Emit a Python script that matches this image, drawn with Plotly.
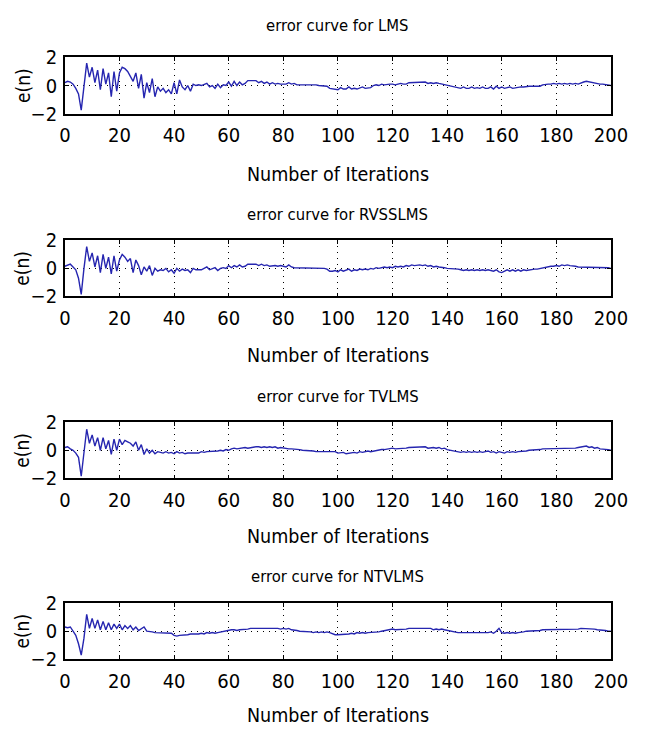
import plotly.graph_objects as go

n = list(range(0, 201))

lms = [0.2, 0.3, 0.25, 0.1, -0.2, -0.6, -1.75, -0.1, 1.6, 0.6,
       1.3, 0.2, 1.1, -0.3, 1.2, 0.1, 0.9, -0.8, 1.0, -0.4,
       0.9, 1.3, 1.2, 1.0, 0.6, 0.3, 0.9, -0.2, 0.8, -0.9,
       0.2, -0.5, 0.5, -0.8, -0.1, -0.4, -0.2, -0.5, -0.3, -0.6,
       0.2, -0.6, 0.4, -0.1, -0.3, 0.0, -0.4, 0.1, 0.0, 0.05,
       0.0, 0.05, 0.15, -0.1, 0.0, -0.2, 0.1, -0.15, 0.05, 0.0,
       0.25, -0.05, 0.3, 0.0, 0.25, 0.05, 0.15, 0.35, 0.35, 0.3,
       0.35, 0.2, 0.3, 0.15, 0.25, 0.1, 0.2, 0.1, 0.15, 0.1,
       0.1, 0.1, 0.2, 0.1, 0.15, 0.05, 0.05, 0.05, 0.05, 0.1,
       0.05, 0.05, 0.05, 0.0, 0.0, 0.0, -0.05, -0.2, -0.25, -0.25,
       -0.3, -0.15, -0.25, -0.25, -0.1, -0.25, -0.2, -0.25, -0.2, -0.1,
       -0.2, -0.2, -0.15, 0.0, 0.05, 0.0, 0.1, 0.05, 0.1, 0.1,
       0.1, 0.05, 0.1, 0.15, 0.1, 0.1, 0.2, 0.2, 0.25, 0.2,
       0.25, 0.2, 0.25, 0.15, 0.2, 0.15, 0.2, 0.15, 0.1, 0.1,
       0.05, 0.0, -0.05, -0.1, -0.15, -0.2, -0.1, -0.2, -0.2, -0.1,
       -0.2, -0.15, -0.2, -0.1, -0.2, -0.2, -0.1, -0.25, -0.05, -0.2,
       -0.1, -0.2, -0.15, -0.1, -0.2, -0.15, -0.15, -0.1, -0.1, -0.05,
       -0.05, -0.05, -0.05, -0.05, -0.05, 0.05, 0.1, 0.1, 0.1, 0.15,
       0.1, 0.15, 0.1, 0.15, 0.1, 0.15, 0.1, 0.15, 0.1, 0.2,
       0.25, 0.3, 0.25, 0.2, 0.2, 0.15, 0.1, 0.1, 0.05, 0.05,
       0.0]

rvsslms = [0.15, 0.25, 0.3, 0.1, -0.1, -0.7, -1.85, 0.0, 1.55, 0.5,
           1.1, 0.1, 0.9, -0.3, 1.0, 0.0, 0.8, -0.4, 0.9, -0.2,
           0.6, 1.0, 0.8, 0.5, 0.7, -0.3, 0.6, 0.2, -0.45, 0.1,
           -0.2, 0.2, -0.5, 0.0, -0.2, -0.1, -0.15, 0.0, -0.25, -0.1,
           -0.35, 0.0, -0.2, -0.05, -0.15, -0.1, -0.3, 0.0, -0.1, -0.1,
           -0.1, 0.0, 0.1, -0.1, -0.05, 0.05, -0.15, 0.0, 0.05, 0.0,
           0.2, 0.05, 0.2, 0.1, 0.25, 0.1, 0.15, 0.3, 0.3, 0.3,
           0.3, 0.2, 0.3, 0.2, 0.25, 0.15, 0.2, 0.2, 0.15, 0.2,
           0.15, 0.1, 0.25, 0.1, 0.05, 0.05, 0.05, 0.05, 0.05, 0.05,
           0.05, 0.0, 0.0, 0.0, 0.0, 0.0, -0.05, -0.2, -0.2, -0.15,
           -0.25, -0.1, -0.2, -0.15, -0.05, -0.2, -0.1, -0.15, -0.05, -0.1,
           -0.05, -0.1, 0.0, -0.05, 0.05, 0.0, 0.05, 0.1, 0.05, 0.1,
           0.05, 0.15, 0.1, 0.15, 0.1, 0.2, 0.15, 0.25, 0.2, 0.25,
           0.25, 0.2, 0.25, 0.15, 0.2, 0.1, 0.15, 0.1, 0.1, 0.05,
           0.0, 0.0, 0.0, -0.05, -0.05, -0.1, -0.15, -0.1, -0.15, -0.1,
           -0.15, -0.1, -0.15, -0.1, -0.15, -0.1, -0.15, -0.2, -0.1, -0.25,
           -0.3, -0.2, -0.1, -0.2, -0.1, -0.2, -0.1, -0.2, -0.1, -0.15,
           -0.1, -0.05, -0.05, -0.05, 0.0, 0.05, 0.05, 0.1, 0.15, 0.15,
           0.2, 0.15, 0.25, 0.2, 0.25, 0.2, 0.2, 0.15, 0.1, 0.1,
           0.1, 0.05, 0.1, 0.05, 0.1, 0.05, 0.05, 0.1, 0.05, 0.05,
           0.0]

tvlms = [0.2, 0.25, 0.1, 0.0, -0.2, -0.5, -1.85, -0.3, 1.5, 0.5,
         1.1, 0.3, 0.9, 0.0, 0.9, 0.1, 0.7, -0.3, 0.8, 0.0,
         0.8, 0.4, 0.7, 0.6, 0.5, 0.3, 0.6, 0.0, 0.4, -0.3,
         0.1, -0.2, 0.0, -0.25, -0.1, -0.15, -0.2, -0.1, -0.2, -0.15,
         -0.25, -0.1, -0.2, -0.15, -0.25, -0.2, -0.2, -0.2, -0.15, -0.2,
         -0.1, -0.15, -0.1, -0.1, -0.05, -0.1, -0.05, 0.0, -0.05, 0.05,
         0.0, 0.1, 0.15, 0.1, 0.15, 0.15, 0.2, 0.15, 0.2, 0.2,
         0.25, 0.25, 0.2, 0.25, 0.2, 0.25, 0.2, 0.25, 0.15, 0.2,
         0.15, 0.15, 0.1, 0.1, 0.1, 0.05, 0.05, 0.0, 0.0, 0.0,
         0.0, -0.05, -0.1, -0.1, -0.05, -0.1, -0.05, -0.1, -0.05, -0.1,
         -0.2, -0.2, -0.15, -0.25, -0.2, -0.2, -0.15, -0.2, -0.1, -0.15,
         -0.1, -0.05, -0.1, -0.05, -0.05, 0.0, 0.05, 0.05, 0.1, 0.1,
         0.15, 0.1, 0.1, 0.15, 0.1, 0.15, 0.2, 0.2, 0.25, 0.2,
         0.25, 0.2, 0.25, 0.15, 0.2, 0.2, 0.15, 0.2, 0.1, 0.15,
         0.05, 0.0, -0.05, -0.05, -0.1, -0.15, -0.1, -0.15, -0.1, -0.15,
         -0.1, -0.15, -0.1, -0.15, -0.1, -0.05, -0.15, -0.1, -0.2, -0.1,
         -0.15, -0.2, -0.1, -0.15, -0.1, -0.15, -0.1, -0.1, -0.05, -0.05,
         0.0, 0.0, 0.0, 0.05, 0.05, 0.1, 0.1, 0.15, 0.1, 0.15,
         0.1, 0.15, 0.1, 0.15, 0.1, 0.15, 0.1, 0.15, 0.2, 0.25,
         0.25, 0.3, 0.2, 0.25, 0.15, 0.2, 0.1, 0.1, 0.05, 0.05,
         0.0]

ntvlms = [0.3, 0.25, 0.3, 0.0, -0.3, -0.9, -1.7, -0.5, 1.2, 0.2,
          0.9, 0.2, 0.8, 0.1, 0.7, 0.1, 0.6, 0.1, 0.5, 0.2,
          0.5, 0.1, 0.4, 0.2, 0.4, 0.1, 0.3, 0.05, 0.2, 0.3,
          0.0, 0.0, -0.05, -0.1, -0.1, -0.1, -0.15, -0.1, -0.1, -0.15,
          -0.3, -0.35, -0.3, -0.3, -0.3, -0.25, -0.2, -0.2, -0.25, -0.2,
          -0.15, -0.2, -0.1, -0.15, -0.1, -0.15, -0.1, -0.05, -0.05, 0.0,
          0.05, 0.1, 0.1, 0.05, 0.1, 0.1, 0.15, 0.15, 0.2, 0.2,
          0.2, 0.25, 0.2, 0.25, 0.2, 0.2, 0.25, 0.2, 0.2, 0.15,
          0.2, 0.15, 0.2, 0.1, 0.1, 0.05, 0.0, 0.0, 0.0, 0.0,
          -0.05, -0.1, -0.05, -0.1, -0.05, -0.1, -0.05, -0.1, -0.2, -0.25,
          -0.25, -0.25, -0.2, -0.25, -0.2, -0.15, -0.2, -0.1, -0.15, -0.1,
          -0.15, -0.1, -0.1, -0.05, -0.05, -0.05, 0.0, 0.05, 0.1, 0.1,
          0.15, 0.1, 0.1, 0.1, 0.15, 0.15, 0.2, 0.2, 0.2, 0.2,
          0.2, 0.2, 0.2, 0.15, 0.2, 0.1, 0.15, 0.1, 0.15, 0.1,
          0.05, 0.0, 0.0, -0.05, -0.1, -0.1, -0.1, -0.1, -0.1, -0.1,
          -0.15, -0.1, -0.1, -0.15, -0.1, -0.1, -0.05, -0.15, 0.0, 0.2,
          -0.1, -0.15, -0.1, -0.15, -0.1, -0.15, -0.1, -0.1, -0.05, 0.0,
          0.0, 0.0, 0.0, 0.05, 0.05, 0.1, 0.1, 0.15, 0.1, 0.15,
          0.1, 0.15, 0.1, 0.15, 0.1, 0.1, 0.15, 0.1, 0.15, 0.2,
          0.2, 0.2, 0.15, 0.2, 0.15, 0.1, 0.1, 0.05, 0.05, 0.0,
          0.0]

titles = ["error curve for LMS", "error curve for RVSSLMS",
          "error curve for TVLMS", "error curve for NTVLMS"]
series = [lms, rvsslms, tvlms, ntvlms]
x_title = "Number of Iterations"
y_title = "e(n)"
x_ticks = [0, 20, 40, 60, 80, 100, 120, 140, 160, 180, 200]
y_ticks = [-2, 0, 2]

W, H = 654, 738
box_tops = [47, 236, 424, 611]
box_h = 58
title_y = [14, 209, 397, 583]
xtitle_y = [168, 355, 542, 727]
x_left, x_right = 61, 627

FONT = "DejaVu Sans Condensed, Liberation Sans Narrow, sans-serif"
LINE_COLOR = "#2626b0"

fig = go.Figure()
layout = dict(
    width=W, height=H, margin=dict(l=0, r=0, t=0, b=0),
    paper_bgcolor="white", plot_bgcolor="white", showlegend=False,
    font=dict(family=FONT, color="black"),
)
annotations = []
for i, (ttl, ys) in enumerate(zip(titles, series)):
    k = "" if i == 0 else str(i + 1)
    top, bot = box_tops[i], box_tops[i] + box_h
    fig.add_trace(go.Scatter(x=n, y=ys, mode="lines",
                             line=dict(color=LINE_COLOR, width=1.4),
                             xaxis="x" + k, yaxis="y" + k))
    common = dict(
        ticks="inside", ticklen=4, tickcolor="black",
        showline=True, linecolor="black", linewidth=1.5, mirror="ticks",
        showgrid=True, gridcolor="black", griddash="1px,5px", gridwidth=1,
        zeroline=False, tickfont=dict(size=20, family=FONT, color="black"),
    )
    layout["xaxis" + k] = dict(
        domain=[x_left / W, x_right / W], range=[0, 200], anchor="y" + k,
        tickvals=x_ticks, ticklabelstandoff=3, **common)
    layout["yaxis" + k] = dict(
        domain=[1 - bot / H, 1 - top / H], range=[-2, 2], anchor="x" + k,
        tickvals=y_ticks, ticklabelstandoff=2, **common)
    annotations.append(dict(text=ttl, x=(x_left + x_right) / 2 / W,
                            y=1 - title_y[i] / H, xref="paper", yref="paper",
                            xanchor="center", yanchor="middle", showarrow=False,
                            font=dict(size=16.5, family=FONT)))
    annotations.append(dict(text=x_title, x=(x_left + x_right) / 2 / W,
                            y=1 - xtitle_y[i] / H, xref="paper", yref="paper",
                            xanchor="center", yanchor="middle", showarrow=False,
                            font=dict(size=19.5, family=FONT)))
    annotations.append(dict(text=y_title, x=17 / W,
                            y=1 - (top + box_h / 2) / H, xref="paper", yref="paper",
                            xanchor="center", yanchor="middle", showarrow=False,
                            textangle=-90, font=dict(size=19, family=FONT)))
layout["annotations"] = annotations
fig.update_layout(**layout)
fig.write_html("out.html")
